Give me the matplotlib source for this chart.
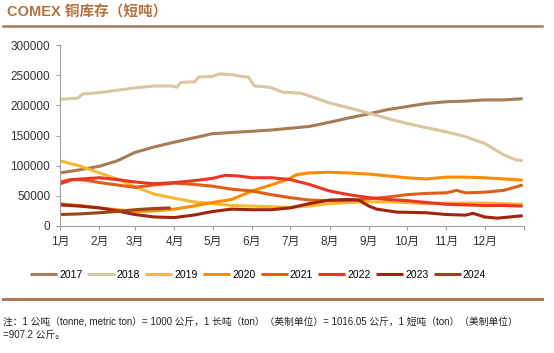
import numpy as np
import matplotlib.pyplot as plt
from matplotlib.lines import Line2D

plt.rcParams['font.family'] = ['Liberation Sans', 'Noto Sans CJK SC', 'DejaVu Sans']

# 月份刻度（按一年中的天数）
month_days = [0, 31, 59, 90, 120, 151, 181, 212, 243, 273, 304, 334, 365]
month_labels = ['1月', '2月', '3月', '4月', '5月', '6月', '7月', '8月', '9月', '10月', '11月', '12月', '']

days = [0, 15, 31, 45, 59, 74, 90, 105, 120, 135, 151, 166, 181, 196, 212, 227, 243, 258, 273, 288, 304, 319, 334, 349, 364]

v2017 = [88000, 93000, 99000, 108000, 122000, 131000, 139000, 146000, 153000, 155000, 157000, 159000, 162000,
         165000, 172000, 179000, 186000, 193000, 198000, 203000, 206000, 207000, 209000, 209000, 211000]

d2018 = [0, 14, 18, 31, 45, 59, 74, 88, 92, 95, 106, 109, 120, 125, 135, 142, 148, 153, 165, 175, 190, 212,
         227, 243, 258, 273, 288, 304, 319, 334, 349, 358, 364]
v2018 = [210000, 212000, 219000, 221000, 225000, 229000, 232000, 232000, 230000, 238000, 239000, 247000, 248000,
         252000, 251000, 248000, 247000, 232000, 230000, 222000, 220000, 204000, 196000, 187000, 178000, 170000,
         163000, 156000, 148000, 137000, 118000, 110000, 108000]

v2019 = [108000, 100000, 88000, 78000, 65000, 53000, 46000, 40000, 37000, 34000, 33000, 32000, 31000,
         33000, 37000, 39000, 40000, 40000, 39000, 37000, 38000, 38000, 38000, 37000, 36000]

d2020 = [0, 15, 31, 45, 59, 74, 90, 105, 120, 135, 151, 166, 173, 181, 186, 196, 212, 227, 243, 258, 273, 288,
         304, 319, 334, 349, 364]
v2020 = [37000, 34000, 30000, 27000, 24000, 25000, 28000, 33000, 39000, 44000, 58000, 68000, 73000, 79000,
         85000, 88000, 89000, 88000, 86000, 83000, 80000, 78000, 81000, 81000, 80000, 78000, 76000]

d2021 = [0, 8, 20, 31, 45, 59, 74, 90, 105, 120, 135, 151, 166, 181, 196, 212, 227, 243, 258, 273, 288, 304,
         312, 319, 334, 349, 364]
v2021 = [73000, 77000, 76000, 72000, 68000, 64000, 68000, 71000, 69000, 66000, 61000, 58000, 52000, 47000,
         43000, 42000, 42000, 45000, 48000, 52000, 54000, 55000, 59000, 55000, 56000, 59000, 68000]

d2022 = [0, 10, 31, 45, 59, 74, 90, 105, 120, 130, 140, 151, 166, 181, 196, 212, 227, 243, 258, 273, 288, 304,
         319, 334, 349, 364]
v2022 = [70000, 77000, 80000, 77000, 73000, 70000, 72000, 75000, 79000, 84000, 83000, 80000, 80000, 77000,
         69000, 58000, 52000, 47000, 44000, 42000, 39000, 36000, 35000, 34000, 34000, 33000]

d2023 = [0, 15, 31, 45, 59, 74, 90, 105, 120, 135, 151, 166, 181, 196, 212, 227, 235, 243, 249, 265, 288, 304,
         319, 325, 334, 344, 364]
v2023 = [35000, 33000, 30000, 25000, 19000, 15000, 14000, 18000, 24000, 28000, 27000, 27000, 30000, 37000,
         43000, 44000, 43000, 33000, 28000, 23000, 22000, 19000, 18000, 21000, 15000, 13000, 17000]

d2024 = [0, 15, 31, 45, 59, 74, 87]
v2024 = [19000, 20000, 22000, 24000, 27000, 29000, 30000]

series = [
    ('2017', days, v2017, '#A57C55'),
    ('2018', d2018, v2018, '#D8C8A0'),
    ('2019', days, v2019, '#F8B830'),
    ('2020', d2020, v2020, '#FF8C00'),
    ('2021', d2021, v2021, '#DF5F1A'),
    ('2022', d2022, v2022, '#EE3524'),
    ('2023', d2023, v2023, '#A0240C'),
    ('2024', d2024, v2024, '#94461A'),
]

fig = plt.figure(figsize=(5.54, 3.53), dpi=100)
ax = fig.add_axes([60 / 554, 1 - 226 / 353, 464 / 554, 181 / 353])

for name, x, y, c in series:
    ax.plot(x, y, color=c, lw=2.2, label=name, solid_capstyle='butt')

ax.set_xlim(0, 365)
ax.set_ylim(0, 300000)
ax.set_yticks(np.arange(0, 300001, 50000))
ax.set_yticklabels([str(v) for v in range(0, 300001, 50000)])
ax.set_xticks(month_days)
ax.set_xticklabels(month_labels)
ax.tick_params(axis='both', labelsize=8.5, colors='#A0A0A0', labelcolor='#333333', length=3, width=0.8)
ax.tick_params(axis='x', pad=4)
ax.tick_params(axis='y', pad=4)
for s in ['top', 'right']:
    ax.spines[s].set_visible(False)
for s in ['left', 'bottom']:
    ax.spines[s].set_color('#A0A0A0')
    ax.spines[s].set_linewidth(0.8)

# 标题
fig.text(7 / 554, 1 - 12 / 353, 'COMEX 铜库存（短吨）', fontsize=10.5, fontweight='bold',
         color='#B5723D', va='center', ha='left')
fig.add_artist(Line2D([3 / 554, 542 / 554], [1 - 26 / 353, 1 - 26 / 353], color='#A87A5A', lw=1.8))
fig.add_artist(Line2D([3 / 554, 542 / 554], [1 - 299 / 353, 1 - 299 / 353], color='#A87A5A', lw=2.2))

# 图例
fig.legend(loc='center', bbox_to_anchor=(258 / 554, 1 - 275 / 353), ncol=8, frameon=False,
           fontsize=7.5, handlelength=2.6, handletextpad=0.2, columnspacing=0.5)

# 注释
fig.text(3 / 554, 1 - 322 / 353,
         '注：1 公吨（tonne, metric ton）= 1000 公斤，1 长吨（ton）（英制单位）= 1016.05 公斤，1 短吨（ton）（美制单位）',
         fontsize=7, color='#222222', va='center', ha='left')
fig.text(3 / 554, 1 - 335 / 353, '=907.2 公斤。', fontsize=7, color='#222222', va='center', ha='left')

fig.savefig('out.png', dpi=100)
